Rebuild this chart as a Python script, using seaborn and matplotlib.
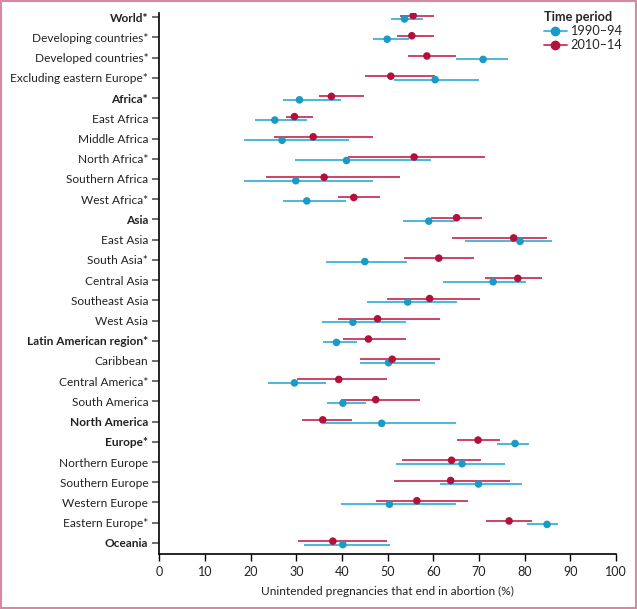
import numpy as np
import pandas as pd
import matplotlib.pyplot as plt
import seaborn as sns
from matplotlib.lines import Line2D
from matplotlib.patches import Rectangle

# regions, top to bottom; bold ones are the big regions
regions = ['World*', 'Developing countries*', 'Developed countries*', 'Excluding eastern Europe*',
           'Africa*', 'East Africa', 'Middle Africa', 'North Africa*', 'Southern Africa', 'West Africa*',
           'Asia', 'East Asia', 'South Asia*', 'Central Asia', 'Southeast Asia', 'West Asia',
           'Latin American region*', 'Caribbean', 'Central America*', 'South America',
           'North America', 'Europe*', 'Northern Europe', 'Southern Europe', 'Western Europe',
           'Eastern Europe*', 'Oceania']
bold_rows = ['World*', 'Africa*', 'Asia', 'Latin American region*', 'North America', 'Europe*', 'Oceania']

# 1990-94 estimate with uncertainty interval
est_1990 = [53.7, 49.9, 70.9, 60.4, 30.7, 25.3, 26.9, 41.0, 29.9, 32.3, 59.0, 79.0, 45.0, 73.1, 54.4,
            42.4, 38.8, 50.2, 29.6, 40.2, 48.7, 77.9, 66.3, 69.9, 50.4, 84.9, 40.2]
lo_1990 = [50.7, 46.9, 65.0, 51.5, 27.1, 21.0, 18.6, 29.7, 18.5, 27.2, 53.3, 67.0, 36.5, 62.2, 45.5,
           35.7, 35.9, 43.9, 23.9, 36.8, 36.1, 73.9, 51.9, 61.4, 39.8, 80.5, 31.7]
hi_1990 = [57.8, 54.7, 76.4, 70.1, 39.7, 32.4, 41.5, 59.4, 46.9, 40.8, 64.7, 85.9, 54.2, 80.3, 65.1,
           54.0, 43.4, 60.4, 36.6, 45.3, 64.9, 80.9, 75.8, 79.5, 64.9, 87.2, 50.5]

# 2010-14 estimate with uncertainty interval
est_2010 = [55.6, 55.3, 58.6, 50.7, 37.7, 29.6, 33.7, 55.8, 36.1, 42.6, 65.1, 77.6, 61.2, 78.5, 59.2,
            47.8, 45.8, 51.0, 39.3, 47.4, 35.8, 69.8, 64.0, 63.8, 56.4, 76.6, 38.0]
lo_2010 = [52.7, 52.0, 54.4, 45.1, 35.0, 27.7, 25.2, 41.4, 23.4, 39.1, 59.5, 64.2, 53.6, 71.4, 49.9,
           39.1, 40.2, 43.9, 30.1, 39.7, 31.2, 65.1, 53.2, 51.3, 47.4, 71.5, 30.4]
hi_2010 = [60.2, 60.1, 65.0, 60.4, 44.8, 33.7, 46.9, 71.3, 52.8, 48.3, 70.6, 84.9, 69.0, 83.9, 70.2,
           61.5, 54.0, 61.5, 49.9, 57.2, 42.3, 74.7, 70.4, 76.9, 67.5, 81.7, 49.9]

periods = ['1990–94', '2010–14']
dot_colors = {'1990–94': '#1b9ac6', '2010–14': '#b3113d'}
line_colors = {'1990–94': '#3db2d8', '2010–14': '#c9345e'}
offsets = {'1990–94': 0.085, '2010–14': -0.085}

rows = []
for p, est, lo, hi in [(periods[0], est_1990, lo_1990, hi_1990), (periods[1], est_2010, lo_2010, hi_2010)]:
    for i, r in enumerate(regions):
        rows.append({'region': r, 'period': p, 'est': est[i], 'lo': lo[i], 'hi': hi[i],
                     'ypos': i + offsets[p]})
df = pd.DataFrame(rows)

sns.set_style('white')
plt.rcParams['font.family'] = ['Lato', 'DejaVu Sans']
fs = 8.6

fig = plt.figure(figsize=(6.37, 6.09), dpi=100)
ax = fig.add_axes([0.25, 0.0903, 0.717, 0.888])

for p in periods:
    sub = df[df['period'] == p]
    ax.hlines(sub['ypos'], sub['lo'], sub['hi'], color=line_colors[p], lw=1.3, zorder=2)
sns.scatterplot(data=df, x='est', y='ypos', hue='period', palette=dot_colors, s=30,
                edgecolor='none', legend=False, ax=ax, zorder=3)

ax.set_xlim(0, 100)
ax.set_ylim(26.55, -0.2)
ax.set_xticks(range(0, 101, 10))
ax.set_yticks(range(len(regions)))
ax.set_yticklabels(regions)
for lab in ax.get_yticklabels():
    if lab.get_text() in bold_rows:
        lab.set_fontweight('bold')
ax.tick_params(axis='y', length=5, width=1.2, color='#555555', labelsize=fs, labelcolor='#222222', pad=3, left=True)
ax.tick_params(axis='x', length=5, width=1, color='black', labelsize=fs + 0.4, labelcolor='#222222', bottom=True)
ax.set_xlabel('Unintended pregnancies that end in abortion (%)', fontsize=fs, color='#222222', labelpad=6)
ax.set_ylabel('')
sns.despine(ax=ax, top=True, right=True)
for s in ['left', 'bottom']:
    ax.spines[s].set_color('black')
    ax.spines[s].set_linewidth(1.2)

handles = [Line2D([0], [0], color=line_colors[p], lw=1.3, marker='o', markersize=6,
                  markerfacecolor=dot_colors[p], markeredgecolor=dot_colors[p]) for p in periods]
leg = fig.legend(handles, periods, title='Time period', loc='upper right',
                 bbox_to_anchor=(0.985, 0.99), frameon=False, fontsize=fs + 0.6,
                 handlelength=1.8, handletextpad=0.3, labelspacing=0.15, borderaxespad=0)
leg.get_title().set_fontweight('bold')
leg.get_title().set_fontsize(fs + 0.6)
leg._legend_box.align = 'left'

fig.patches.append(Rectangle((0.002, 0.002), 0.996, 0.996, transform=fig.transFigure,
                             fill=False, edgecolor='#d48aa2', lw=1.5))

fig.savefig('out.png', dpi=100)
